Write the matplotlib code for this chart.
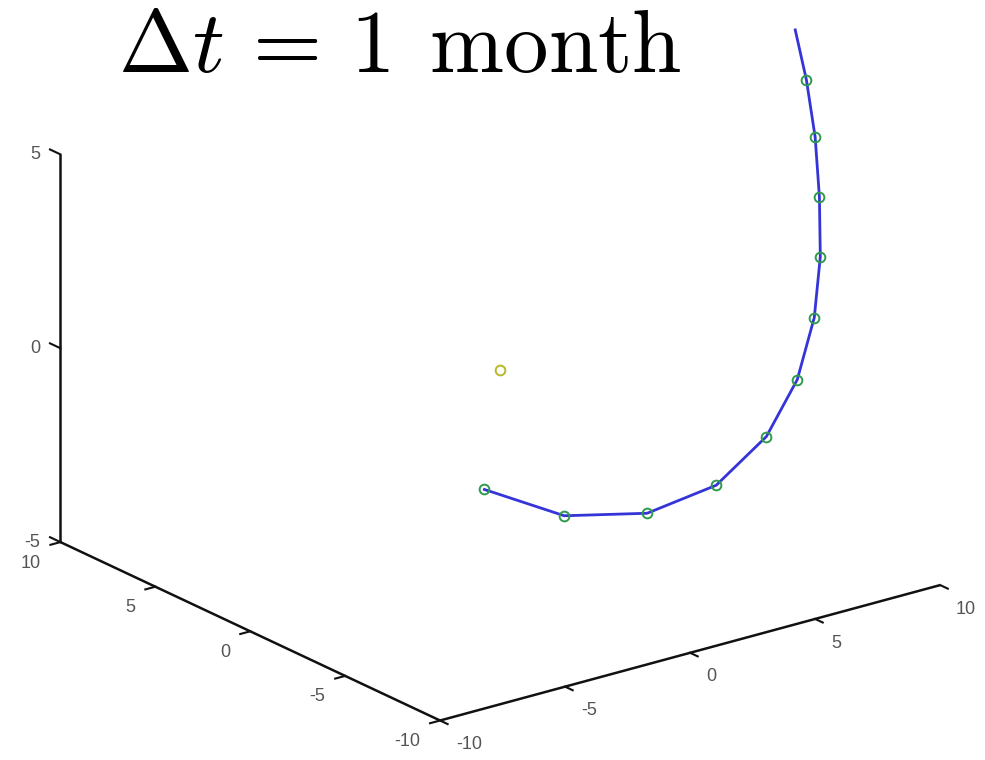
import matplotlib
matplotlib.use("Agg")
import matplotlib.pyplot as plt
from mpl_toolkits.mplot3d import proj3d

plt.rcParams["mathtext.fontset"] = "cm"

# Position of the planet at each monthly step (the last sample only extends the path)
orbit_x = [-0.40, 1.61, 3.70, 5.44, 6.70, 7.48, 7.91, 8.06, 8.04, 7.93, 7.71, 7.43]
orbit_y = [0.31, -1.25, -2.86, -4.21, -5.19, -5.79, -6.12, -6.24, -6.22, -6.14, -5.97, -5.75]
orbit_z = [-3.09, -3.76, -3.69, -2.96, -1.70, -0.23, 1.37, 2.94, 4.48, 6.03, 7.50, 8.79]
n_marked = 11

# The sun sits at the origin
sun_x, sun_y, sun_z = [0.0], [0.0], [0.0]

x_ticks = [-10, -5, 0, 5, 10]
y_ticks = [-10, -5, 0, 5, 10]
z_ticks = [-5, 0, 5]
x_lim = (-10, 10)
y_lim = (-10, 10)
z_lim = (-5, 5)
title = r"$\Delta t\,=\,1\;\,\mathrm{month}$"

fig = plt.figure(figsize=(9.85, 7.6), dpi=100)
ax = fig.add_axes([0.1117, 0.0, 0.7716, 1.0], projection="3d", proj_type="ortho")
ax.set_xlim(*x_lim)
ax.set_ylim(*y_lim)
ax.set_zlim(*z_lim)
ax.set_box_aspect((1, 1, 0.661), zoom=1.252)
ax.view_init(elev=20.9, azim=-127.2)
ax.set_axis_off()

proj = ax.get_proj()


def label_at(x, y, z, s, **kw):
    """Place a flat text label at the projected position of a 3-D point."""
    px, py, _ = proj3d.proj_transform(x, y, z, proj)
    ax.text2D(px, py, s, transform=ax.transData, **kw)


axis_kw = dict(color="#111111", lw=1.8, clip_on=False, solid_capstyle="butt")
x0, x1 = x_lim
y0, y1 = y_lim
z0, z1 = z_lim

# Axis lines: x along the front-right edge, y along the front-left edge,
# z up the back-left corner
ax.plot([x0, x1], [y0, y0], [z0, z0], **axis_kw)
ax.plot([x0, x0], [y0, y1], [z0, z0], **axis_kw)
ax.plot([x0, x0], [y1, y1], [z0, z1], **axis_kw)

tick_kw = dict(color="#111111", lw=1.5, clip_on=False)
label_kw = dict(fontsize=13, color="#555555", family="Liberation Sans")
tick_len = 0.4

for v in x_ticks:
    ax.plot([v, v], [y0, y0 - tick_len], [z0, z0], **tick_kw)
    label_at(v, y0 - 0.84, z0 - 0.43, str(v), ha="left", va="center", **label_kw)

for v in y_ticks:
    ax.plot([x0, x0 - tick_len], [v, v], [z0, z0], **tick_kw)
    label_at(x0 - 0.8, v, z0 - 0.4, str(v), ha="right", va="center", **label_kw)

for v in z_ticks:
    ax.plot([x0, x0], [y1, y1 + 0.55], [v, v], **tick_kw)
    label_at(x0 - 0.5, y1 + 0.39, v, str(v), ha="right", va="center", **label_kw)

# Trajectory and monthly samples
ax.plot(orbit_x, orbit_y, orbit_z, color="#3434d8", lw=2.0, clip_on=False)
ax.plot(orbit_x[:n_marked], orbit_y[:n_marked], orbit_z[:n_marked], ls="none",
        marker="o", ms=7, mfc="none", mec="#2f9a4c", mew=1.4, clip_on=False)

# Sun
ax.plot(sun_x, sun_y, sun_z, ls="none", marker="o", ms=7, mfc="none",
        mec="#b8b828", mew=1.4, clip_on=False)

fig.text(399.5 / 985, 1 - 72 / 760, title, ha="center", va="baseline", fontsize=64)

fig.savefig("out.png", dpi=100)
